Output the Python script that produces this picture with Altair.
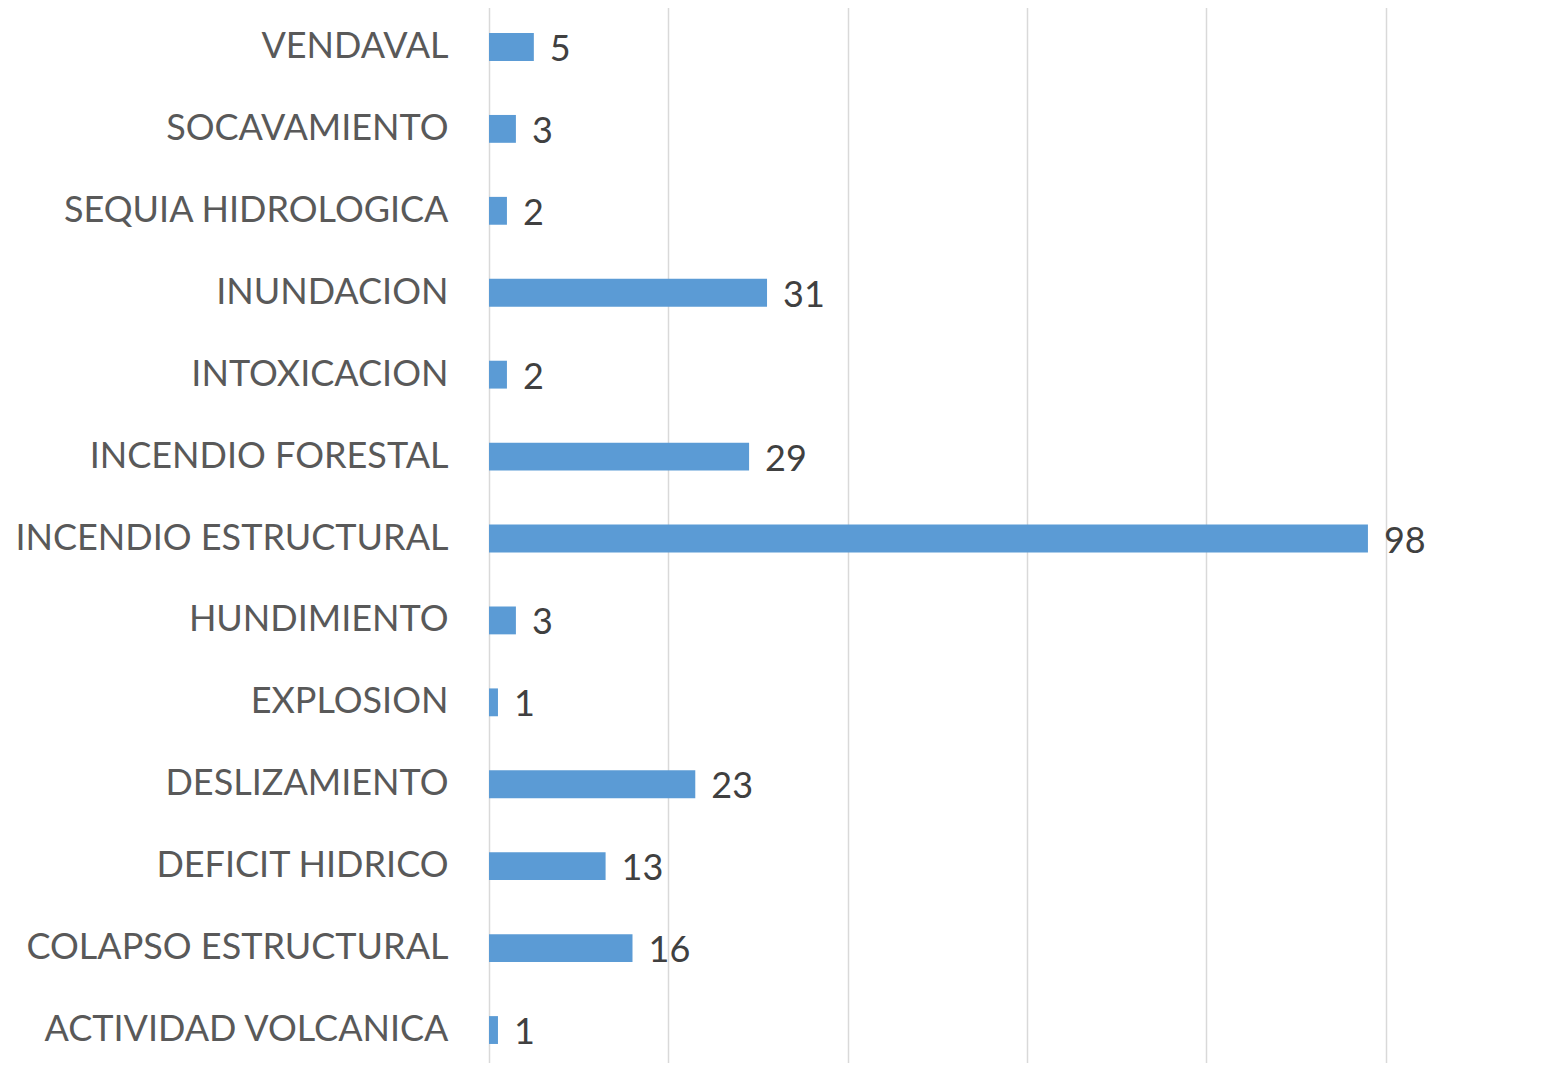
import altair as alt
import pandas as pd

categories = ["VENDAVAL", "SOCAVAMIENTO", "SEQUIA HIDROLOGICA", "INUNDACION",
              "INTOXICACION", "INCENDIO FORESTAL", "INCENDIO ESTRUCTURAL",
              "HUNDIMIENTO", "EXPLOSION", "DESLIZAMIENTO", "DEFICIT HIDRICO",
              "COLAPSO ESTRUCTURAL", "ACTIVIDAD VOLCANICA"]
values = [5, 3, 2, 31, 2, 29, 98, 3, 1, 23, 13, 16, 1]
x_ticks = [0, 20, 40, 60, 80, 100]

df = pd.DataFrame({"cat": categories, "val": values})

FONT = "Lato"

y_scale = alt.Scale(range=[-2, 1063], paddingInner=0.66, paddingOuter=0.33)
x_scale = alt.Scale(domain=[0, 118.3], nice=False, zero=True)

y_enc = alt.Y("cat:N", sort=categories, title=None, scale=y_scale,
              axis=alt.Axis(domain=False, ticks=False, grid=False, labelPadding=41,
                            labelFont=FONT, labelFontSize=36, labelColor="#595959",
                            labelLimit=600))
x_enc = alt.X("val:Q", title=None, scale=x_scale,
              axis=alt.Axis(values=x_ticks, labels=False, ticks=False, domain=False,
                            grid=True, gridColor="#d9d9d9", gridWidth=1.5))

bars = alt.Chart(df).mark_bar(color="#5B9BD5").encode(x=x_enc, y=y_enc)
text = alt.Chart(df).mark_text(align="left", baseline="middle", dx=16, dy=3,
                               font=FONT, fontSize=36, color="#404040").encode(
    x="val:Q", y=alt.Y("cat:N", sort=categories), text="val:Q")

chart = (bars + text).properties(
    width=1061, height=1055,
    background="white",
    autosize=alt.AutoSizeParams(type="none"),
    padding={"left": 481, "top": 0, "right": 0, "bottom": 0},
).configure_view(strokeWidth=0, strokeOpacity=0).configure_axis(domain=False)

chart.save("out.html", embed_options={"renderer": "svg", "actions": False})
